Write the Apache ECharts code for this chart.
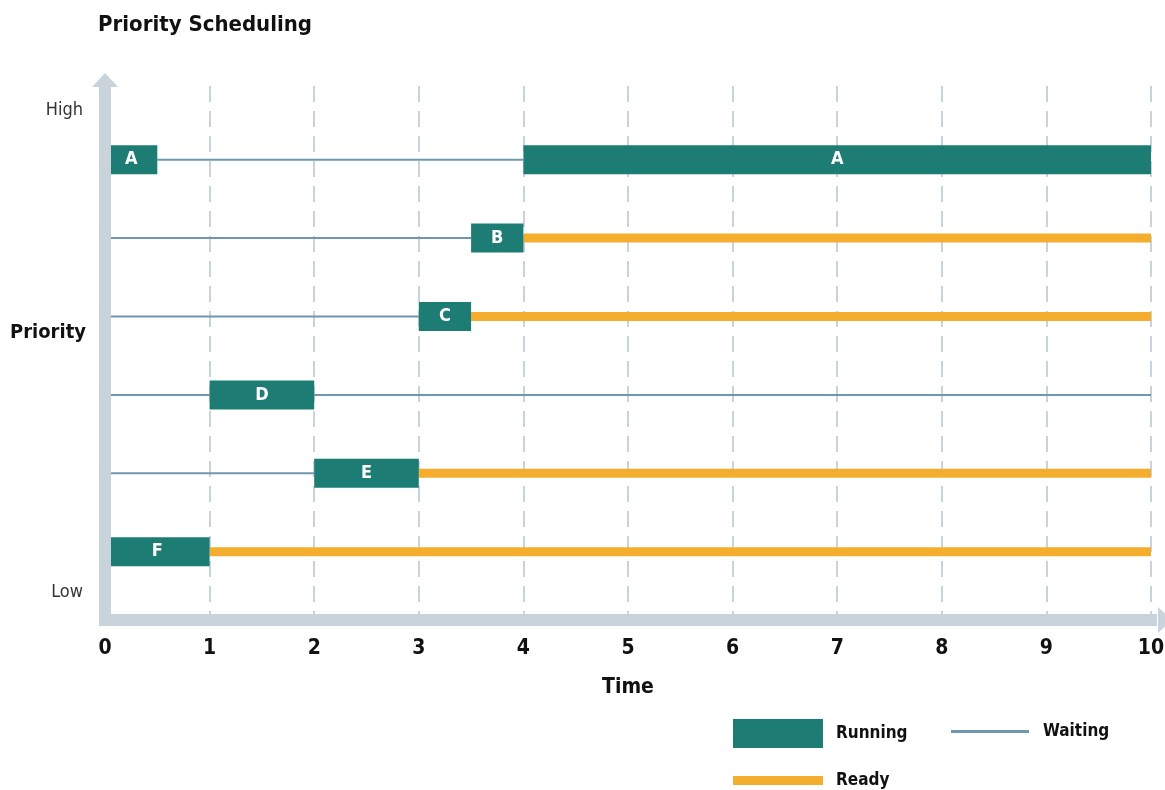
<!DOCTYPE html>
<html>
<head>
<meta charset="utf-8">
<script src="https://cdn.jsdelivr.net/npm/echarts@6/dist/echarts.min.js"></script>
<style>
  html, body { margin: 0; padding: 0; background: #fff; }
  #chart { width: 1165px; height: 790px; }
</style>
</head>
<body>
<div id="chart"></div>
<script>
// ---- data ----
const processes = ['A', 'B', 'C', 'D', 'E', 'F'];
const priorityLevel = [6, 5, 4, 3, 2, 1];          // A highest, F lowest
// segments: [process, start, end]
const runningSegments = [
  ['A', 0, 0.5], ['A', 4, 10],
  ['B', 3.5, 4],
  ['C', 3, 3.5],
  ['D', 1, 2],
  ['E', 2, 3],
  ['F', 0, 1]
];
const waitingSegments = [
  ['A', 0.5, 4],
  ['B', 0, 3.5],
  ['C', 0, 3],
  ['D', 0, 1], ['D', 2, 10],
  ['E', 0, 2]
];
const readySegments = [
  ['B', 4, 10],
  ['C', 3.5, 10],
  ['E', 3, 10],
  ['F', 1, 10]
];
const xTicks = [0, 1, 2, 3, 4, 5, 6, 7, 8, 9, 10];
const yTickLabels = ['Low', 'High'];
const yTickValues = [0.48, 6.63];

// ---- styles ----
const FONT = '"DejaVu Sans Condensed", "Liberation Sans Narrow", sans-serif';
const TEAL = '#1d7c74';
const ORANGE = '#f4ad2d';
const WAIT = '#6f97ad';
const AXIS = '#c9d3dc';

function toData(segs) {
  return segs.map(s => {
    const lvl = priorityLevel[processes.indexOf(s[0])];
    return [s[1], s[2], lvl, s[0]];
  });
}

const chart = echarts.init(document.getElementById('chart'), null, { renderer: 'canvas' });

const option = {
  animation: false,
  backgroundColor: '#fff',
  title: [
    {
      text: 'Priority Scheduling',
      left: 98, top: 14, padding: 0,
      textStyle: { fontFamily: FONT, fontSize: 22, fontWeight: 'bold', color: '#111' }
    },
    {
      text: 'Priority',
      left: 10, top: 323, padding: 0,
      textStyle: { fontFamily: FONT, fontSize: 20, fontWeight: 'bold', color: '#111' }
    }
  ],
  legend: [
    {
      left: 733, top: 719, padding: 0, selectedMode: false,
      itemWidth: 90, itemHeight: 29,
      data: [{ name: 'Running', icon: 'rect' }],
      textStyle: { fontFamily: FONT, fontSize: 17, fontWeight: 'bold', color: '#111', padding: [0, 0, 0, 8] }
    },
    {
      left: 951, top: 723, padding: 0, selectedMode: false,
      itemWidth: 78, itemHeight: 3,
      data: [{ name: 'Waiting', icon: 'rect' }],
      textStyle: { fontFamily: FONT, fontSize: 17, fontWeight: 'bold', color: '#111', padding: [0, 0, 0, 9] }
    },
    {
      left: 733, top: 772, padding: 0, selectedMode: false,
      itemWidth: 90, itemHeight: 9,
      data: [{ name: 'Ready', icon: 'rect' }],
      textStyle: { fontFamily: FONT, fontSize: 17, fontWeight: 'bold', color: '#111', padding: [0, 0, 0, 8] }
    }
  ],
  grid: { left: 105, right: 14, top: 86, bottom: 170, containLabel: false, outerBoundsMode: 'none' },
  xAxis: {
    type: 'value', min: xTicks[0], max: xTicks[xTicks.length - 1], interval: 1,
    name: 'Time', nameLocation: 'middle', nameGap: 57, nameMoveOverlap: false,
    nameTextStyle: { fontFamily: FONT, fontSize: 21, fontWeight: 'bold', color: '#111' },
    axisLine: {
      show: true, symbol: ['none', 'triangle'], symbolSize: [26, 14], symbolOffset: [0, 14],
      lineStyle: { color: AXIS, width: 12, cap: 'square' }
    },
    axisTick: { show: false },
    axisLabel: { margin: 18, fontFamily: FONT, fontSize: 21, fontWeight: 'bold', color: '#111' },
    splitLine: { show: true, lineStyle: { color: AXIS, width: 2, type: [16, 9] } }
  },
  yAxis: {
    type: 'value', min: 0.13, max: 6.94, z: 10,
    axisLine: {
      show: true, symbol: ['none', 'triangle'], symbolSize: [26, 14], symbolOffset: [0, 6],
      lineStyle: { color: AXIS, width: 12, cap: 'square' }
    },
    axisTick: { show: false },
    axisLabel: {
      margin: 22, fontFamily: FONT, fontSize: 18, color: '#333',
      customValues: yTickValues,
      formatter: v => {
        const i = yTickValues.findIndex(t => Math.abs(t - v) < 1e-6);
        return i >= 0 ? yTickLabels[i] : '';
      }
    },
    splitLine: { show: false }
  },
  series: [
    {
      name: 'Waiting', type: 'custom', z: 2,
      itemStyle: { color: WAIT },
      encode: { x: [0, 1], y: 2 },
      data: toData(waitingSegments),
      renderItem: (params, api) => {
        const a = api.coord([api.value(0), api.value(2)]);
        const b = api.coord([api.value(1), api.value(2)]);
        return {
          type: 'line',
          shape: { x1: a[0], y1: a[1], x2: b[0], y2: b[1] },
          style: { stroke: WAIT, lineWidth: 2 }
        };
      }
    },
    {
      name: 'Ready', type: 'custom', z: 3,
      itemStyle: { color: ORANGE },
      encode: { x: [0, 1], y: 2 },
      data: toData(readySegments),
      renderItem: (params, api) => {
        const a = api.coord([api.value(0), api.value(2)]);
        const b = api.coord([api.value(1), api.value(2)]);
        const h = 9;
        return {
          type: 'rect',
          shape: { x: a[0], y: a[1] - h / 2, width: b[0] - a[0], height: h },
          style: { fill: ORANGE }
        };
      }
    },
    {
      name: 'Running', type: 'custom', z: 4,
      itemStyle: { color: TEAL },
      encode: { x: [0, 1], y: 2 },
      data: toData(runningSegments),
      renderItem: (params, api) => {
        const a = api.coord([api.value(0), api.value(2)]);
        const b = api.coord([api.value(1), api.value(2)]);
        const h = 29;
        return {
          type: 'rect',
          shape: { x: a[0], y: a[1] - h / 2, width: b[0] - a[0], height: h },
          style: { fill: TEAL },
          textContent: {
            style: {
              text: api.value(3), fill: '#fff',
              fontFamily: FONT, fontSize: 18, fontWeight: 'bold'
            }
          },
          textConfig: { position: 'inside' }
        };
      }
    }
  ]
};

chart.setOption(option);
</script>
</body>
</html>
